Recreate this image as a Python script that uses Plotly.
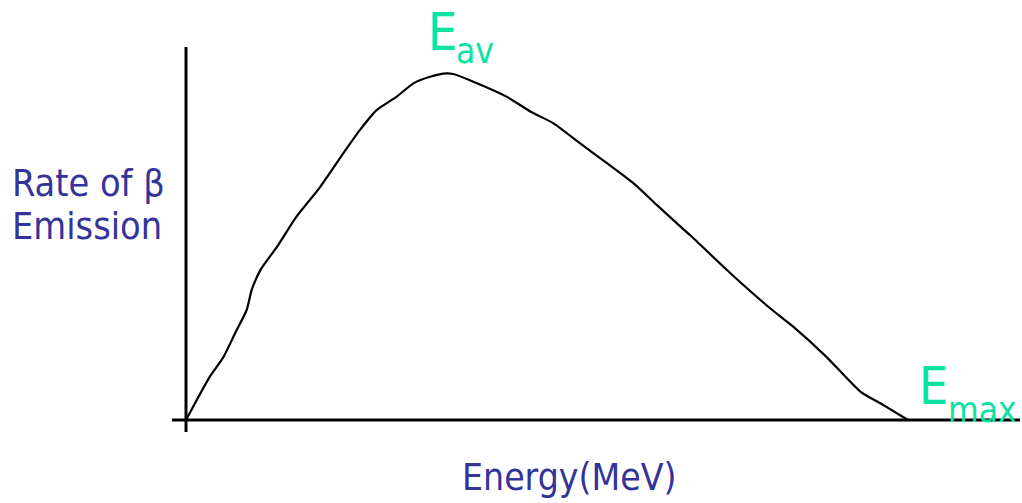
import plotly.graph_objects as go

# Beta spectrum curve (energy as fraction of E_max, rate relative to peak)
energy = [0.0, 0.015, 0.033, 0.052, 0.068, 0.084, 0.091, 0.103, 0.126, 0.153,
          0.186, 0.218, 0.241, 0.264, 0.292, 0.315, 0.338, 0.361, 0.370, 0.398,
          0.444, 0.477, 0.509, 0.546, 0.583, 0.620, 0.652, 0.675, 0.698, 0.754,
          0.809, 0.841, 0.887, 0.934, 0.966, 1.0]
rate = [0.0, 0.058, 0.125, 0.182, 0.250, 0.317, 0.375, 0.432, 0.499, 0.586,
        0.672, 0.769, 0.836, 0.893, 0.932, 0.970, 0.989, 0.999, 0.997, 0.975,
        0.932, 0.889, 0.855, 0.797, 0.740, 0.682, 0.620, 0.576, 0.533, 0.423,
        0.322, 0.269, 0.182, 0.082, 0.043, 0.0]

y_label_lines = ["Rate of β", "Emission"]
x_label = "Energy(MeV)"

W, H = 1022, 503
BLUE = "#333399"
GREEN = "#0BE3A2"
FONT = "DejaVu Sans Condensed, DejaVu Sans, sans-serif"

def px(x):
    return x / W

def py(y):
    return 1 - y / H

fig = go.Figure()
fig.add_trace(go.Scatter(x=energy, y=rate, mode="lines",
                         line=dict(color="black", width=2.2, shape="spline", smoothing=0.6),
                         hoverinfo="skip", showlegend=False))

# axes drawn as lines
fig.add_shape(type="line", xref="x", yref="paper", x0=0, x1=0, y0=py(432), y1=py(47),
              line=dict(color="black", width=3))
fig.add_shape(type="line", xref="paper", yref="y", x0=px(172), x1=px(1020), y0=0, y1=0,
              line=dict(color="black", width=3))

ann = []
for txt, yc in zip(y_label_lines, [183, 226]):
    ann.append(dict(text=txt, xref="paper", yref="paper", x=px(10), y=py(yc),
                    xanchor="left", yanchor="middle", align="left", showarrow=False,
                    font=dict(family=FONT, size=37.5, color=BLUE)))
ann.append(dict(text=x_label, xref="paper", yref="paper", x=px(569), y=py(477),
                xanchor="center", yanchor="middle", showarrow=False,
                font=dict(family=FONT, size=37, color=BLUE)))
# E_av
ann.append(dict(text="E", xref="paper", yref="paper", x=px(426), y=1.0,
                xanchor="left", yanchor="top", showarrow=False,
                font=dict(family=FONT, size=52, color=GREEN)))
ann.append(dict(text="av", xref="paper", yref="paper", x=px(454), y=py(51),
                xanchor="left", yanchor="middle", showarrow=False,
                font=dict(family=FONT, size=35, color=GREEN)))
# E_max
ann.append(dict(text="E", xref="paper", yref="paper", x=px(917), y=py(386),
                xanchor="left", yanchor="middle", showarrow=False,
                font=dict(family=FONT, size=52, color=GREEN)))
ann.append(dict(text="max", xref="paper", yref="paper", x=px(946), y=py(410),
                xanchor="left", yanchor="middle", showarrow=False,
                font=dict(family=FONT, size=35, color=GREEN)))

x0 = -186 / 722
x1 = (W - 186) / 722
y1 = 420 / 347
y0 = -(H - 420) / 347

fig.update_layout(
    width=W, height=H,
    margin=dict(l=0, r=0, t=0, b=0),
    paper_bgcolor="white", plot_bgcolor="white",
    xaxis=dict(range=[x0, x1], visible=False, fixedrange=True),
    yaxis=dict(range=[y0, y1], visible=False, fixedrange=True),
    annotations=ann,
    showlegend=False,
)

fig.write_html("out.html", config={"displayModeBar": False},
               post_script="document.body.style.margin='0';document.body.style.overflow='hidden';")
